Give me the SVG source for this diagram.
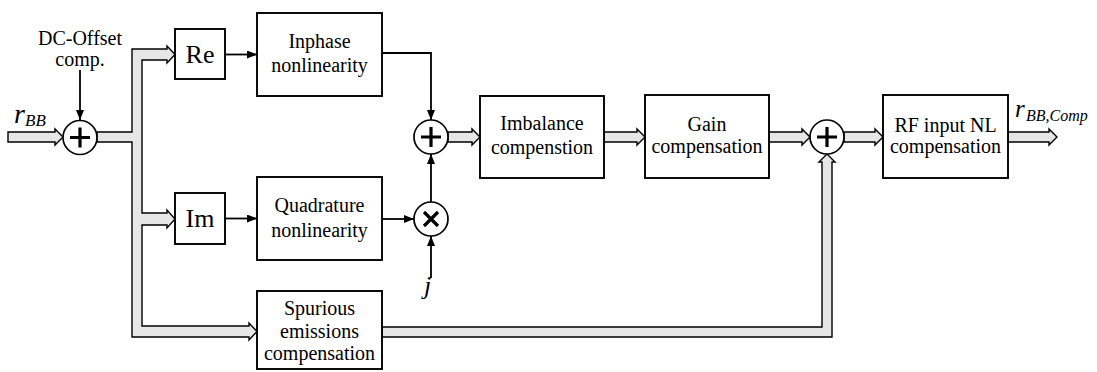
<svg xmlns="http://www.w3.org/2000/svg" width="1097" height="372" viewBox="0 0 1097 372">
  <style>
    .box { fill: #ffffff; stroke: #000000; stroke-width: 1.9; }
    .lbl { font-family: "Liberation Serif", "Times New Roman", serif; font-size: 20px; fill: #000000; text-anchor: middle; }
    .big { font-size: 26px; }
    .sym { font-family: "Liberation Serif", "Times New Roman", serif; font-style: italic; fill: #000000; }
    .wide { fill: #e6e6e6; stroke: #000000; stroke-width: 1.4; stroke-linejoin: miter; }
    .thin { fill: none; stroke: #000000; stroke-width: 1.8; }
    .junc { fill: #ffffff; stroke: #000000; stroke-width: 1.7; }
    .op { stroke: #000000; stroke-width: 3.2; stroke-linecap: butt; fill: none; }
  </style>
  <defs>
    <marker id="ah" viewBox="0 0 10 8" refX="10" refY="4" markerWidth="10" markerHeight="8" markerUnits="userSpaceOnUse" orient="auto">
      <path d="M0,0 L10,4 L0,8 Z" fill="#000000"/>
    </marker>
  </defs>

  <rect width="1097" height="372" fill="#ffffff"/>

  <!-- connectors -->
  <g id="connectors">
    <!-- wide signal paths -->
    <polygon class="wide" points="8,132 55,132 55,129 63,137 55,145 55,142 8,142"/>
    <polygon class="wide" points="97,132 132,132 132,49 167,49 167,46 175,54.5 167,63 167,60 142,60 142,213 167,213 167,210 175,219 167,228 167,225 142,225 142,326 249,326 249,323 257,331.5 249,340 249,337 132,337 132,142 97,142"/>
    <polygon class="wide" points="448,132 472,132 472,129 480,137 472,145 472,142 448,142"/>
    <polygon class="wide" points="604,132 637,132 637,129 645,137 637,145 637,142 604,142"/>
    <polygon class="wide" points="769,132 802,132 802,129 810,137 802,145 802,142 769,142"/>
    <polygon class="wide" points="844,132 875,132 875,129 883,137 875,145 875,142 844,142"/>
    <polygon class="wide" points="1008,132 1049,132 1049,129 1057,137 1049,145 1049,142 1008,142"/>
    <polygon class="wide" points="382,327 822,327 822,162 819,162 827,154 835,162 832,162 832,337 382,337"/>

    <!-- thin signal lines -->
    <line class="thin" x1="80" y1="70" x2="80" y2="120" marker-end="url(#ah)"/>
    <line class="thin" x1="225" y1="54.5" x2="257" y2="54.5" marker-end="url(#ah)"/>
    <line class="thin" x1="225" y1="218.5" x2="257" y2="218.5" marker-end="url(#ah)"/>
    <polyline class="thin" points="382,53 431,53 431,120" marker-end="url(#ah)"/>
    <line class="thin" x1="382" y1="219" x2="414" y2="219" marker-end="url(#ah)"/>
    <line class="thin" x1="431" y1="202" x2="431" y2="154" marker-end="url(#ah)"/>
    <line class="thin" x1="431" y1="278" x2="431" y2="236" marker-end="url(#ah)"/>
  </g>

  <!-- input label and DC offset term -->
  <g id="input">
    <text class="sym" x="14" y="123" font-size="28">r</text>
    <text class="sym" x="25" y="126" font-size="17">BB</text>
    <text class="lbl" x="80" y="45">DC-Offset</text>
    <text class="lbl" x="80" y="66">comp.</text>
  </g>

  <!-- summing junction after DC offset -->
  <g id="sum1">
    <circle class="junc" cx="80" cy="137.5" r="17"/>
    <path class="op" d="M70,137.5 H90 M80,127.5 V147.5"/>
  </g>

  <g id="re">
    <rect class="box" x="175" y="29" width="50" height="50"/>
    <text class="lbl big" x="200" y="63">Re</text>
  </g>

  <g id="im">
    <rect class="box" x="175" y="193" width="50" height="51"/>
    <text class="lbl big" x="200" y="227">Im</text>
  </g>

  <g id="inphase">
    <rect class="box" x="257" y="13" width="125" height="83"/>
    <text class="lbl" x="319.5" y="48">Inphase</text>
    <text class="lbl" x="319.5" y="72">nonlinearity</text>
  </g>

  <g id="quadrature">
    <rect class="box" x="257" y="177" width="125" height="83"/>
    <text class="lbl" x="319.5" y="212">Quadrature</text>
    <text class="lbl" x="319.5" y="237">nonlinearity</text>
  </g>

  <g id="spurious">
    <rect class="box" x="257" y="291" width="125" height="78"/>
    <text class="lbl" x="319.5" y="315">Spurious</text>
    <text class="lbl" x="319.5" y="338">emissions</text>
    <text class="lbl" x="319.5" y="360">compensation</text>
  </g>

  <!-- I/Q recombination -->
  <g id="sum2">
    <circle class="junc" cx="431" cy="137" r="17"/>
    <path class="op" d="M421,137 H441 M431,127 V147"/>
  </g>

  <g id="mult">
    <circle class="junc" cx="431" cy="219" r="17"/>
    <path class="op" d="M424,212 L438,226 M438,212 L424,226"/>
  </g>

  <g id="j-label">
    <text class="sym" x="424" y="294" font-size="26">j</text>
  </g>

  <g id="imbalance">
    <rect class="box" x="480" y="96" width="124" height="82"/>
    <text class="lbl" x="542" y="130">Imbalance</text>
    <text class="lbl" x="542" y="154">compenstion</text>
  </g>

  <g id="gain">
    <rect class="box" x="645" y="95" width="124" height="83"/>
    <text class="lbl" x="707" y="131">Gain</text>
    <text class="lbl" x="707" y="153">compensation</text>
  </g>

  <g id="sum3">
    <circle class="junc" cx="827" cy="137" r="17"/>
    <path class="op" d="M817,137 H837 M827,127 V147"/>
  </g>

  <g id="rf">
    <rect class="box" x="883" y="95" width="125" height="83"/>
    <text class="lbl" x="945.5" y="132">RF input NL</text>
    <text class="lbl" x="945.5" y="153">compensation</text>
  </g>

  <g id="output">
    <text class="sym" x="1015" y="117" font-size="25">r</text>
    <text class="sym" x="1026" y="121" font-size="16">BB,Comp</text>
  </g>
</svg>
